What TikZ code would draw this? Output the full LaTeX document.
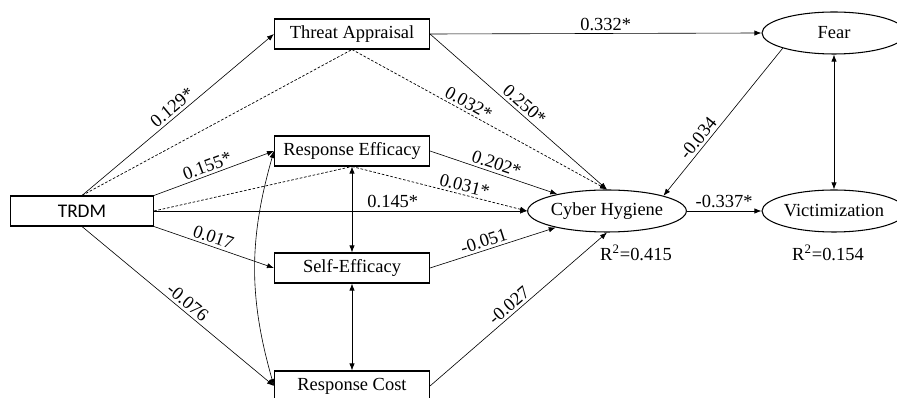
\documentclass[tikz,border=0pt]{standalone}
\usepackage{fontspec}
\setmainfont{Liberation Serif}
\newfontfamily\trdmfont{Carlito}
\usetikzlibrary{arrows.meta,shapes.geometric}

\tikzset{
  box/.style={draw,line width=0.6pt,minimum width=3.1cm,minimum height=0.6cm,inner sep=0pt},
  latent/.style={draw,ellipse,line width=0.6pt,minimum width=2.88cm,minimum height=0.84cm,inner sep=0pt},
  effect/.style={->,line width=0.35pt},
  indirect/.style={line width=0.4pt,dash pattern=on 1.5pt off 1pt},
  coef/.style={sloped,above,inner sep=1.5pt}
}

\begin{document}
\begin{tikzpicture}[x=0.02cm,y=-0.02cm,>={Latex[length=4pt,width=3pt]},
                    font=\fontsize{10.5}{12}\selectfont]
            \useasboundingbox (0,0) rectangle (897,398);
            % constructs
            \node[box,minimum width=2.86cm,font=\trdmfont\fontsize{11}{13}\selectfont] (trdm) at (82,211) {TRDM};
            \node[box] (threat) at (352,34) {Threat Appraisal};
            \node[box] (effic) at (352,151) {Response Efficacy};
            \node[box] (self) at (352,268) {Self-Efficacy};
            \node[box] (cost) at (352,386) {Response Cost};
            \node[latent] (fear) at (834,33) {Fear};
            \node[latent,minimum width=2.9cm] (hyg) at (607,211) {Cyber Hygiene};
            \node[latent] (vict) at (834,211) {Victimization};
            \node (r2hyg) at (636,253) {R\textsuperscript{2}=0.415};
            \node (r2vict) at (828,253) {R\textsuperscript{2}=0.154};
            % direct paths
            \draw[effect] (trdm.north) -- node[coef,pos=.5] {0.129*} (threat.west);
            \draw[effect] (trdm.north east) -- node[coef,pos=.47] {0.155*} (effic.west);
            \draw[effect] (trdm.east) -- node[coef,pos=.64] {0.145*} (hyg.west);
            \draw[effect] (trdm.south east) -- node[coef,pos=.47] {0.017} (self.west);
            \draw[effect] (trdm.south) -- node[coef,pos=.52] {-0.076} (cost.west);
            \draw[effect] (threat.east) -- node[coef,pos=.53] {0.332*} (fear.west);
            \draw[effect] (threat.east) -- node[coef,pos=.5] {0.250*} (hyg.north);
            \draw[effect] (effic.east) -- node[coef,pos=.5] {0.202*} (hyg);
            \draw[effect] (self.east) -- node[coef,pos=.45] {-0.051} (hyg);
            \draw[effect] (cost.east) -- node[coef,pos=.48] {-0.027} (hyg.south);
            \draw[effect] (fear.south west) -- node[coef,pos=.65] {-0.034} (hyg.north east);
            \draw[effect] (hyg.east) -- node[coef,pos=.5] {-0.337*} (vict.west);
            % indirect paths
            \draw[indirect] (trdm.north) -- (threat.south);
            \draw[indirect,->] (threat.south) -- node[coef,pos=.44] {0.032*} (hyg.north);
            \draw[indirect] (trdm.east) -- (effic.south);
            \draw[indirect,->] (effic.south) -- node[coef,pos=.63] {0.031*} (hyg.west);
            % covariances
            \draw[<->,line width=0.35pt] (effic.south) -- (self.north);
            \draw[<->,line width=0.35pt] (self.south) -- (cost.north);
            \draw[<->,line width=0.35pt] (effic.west) to[bend right=16] (cost.west);
            \draw[<->,line width=0.35pt] (fear.south) -- (vict.north);
        \end{tikzpicture}
\end{document}
